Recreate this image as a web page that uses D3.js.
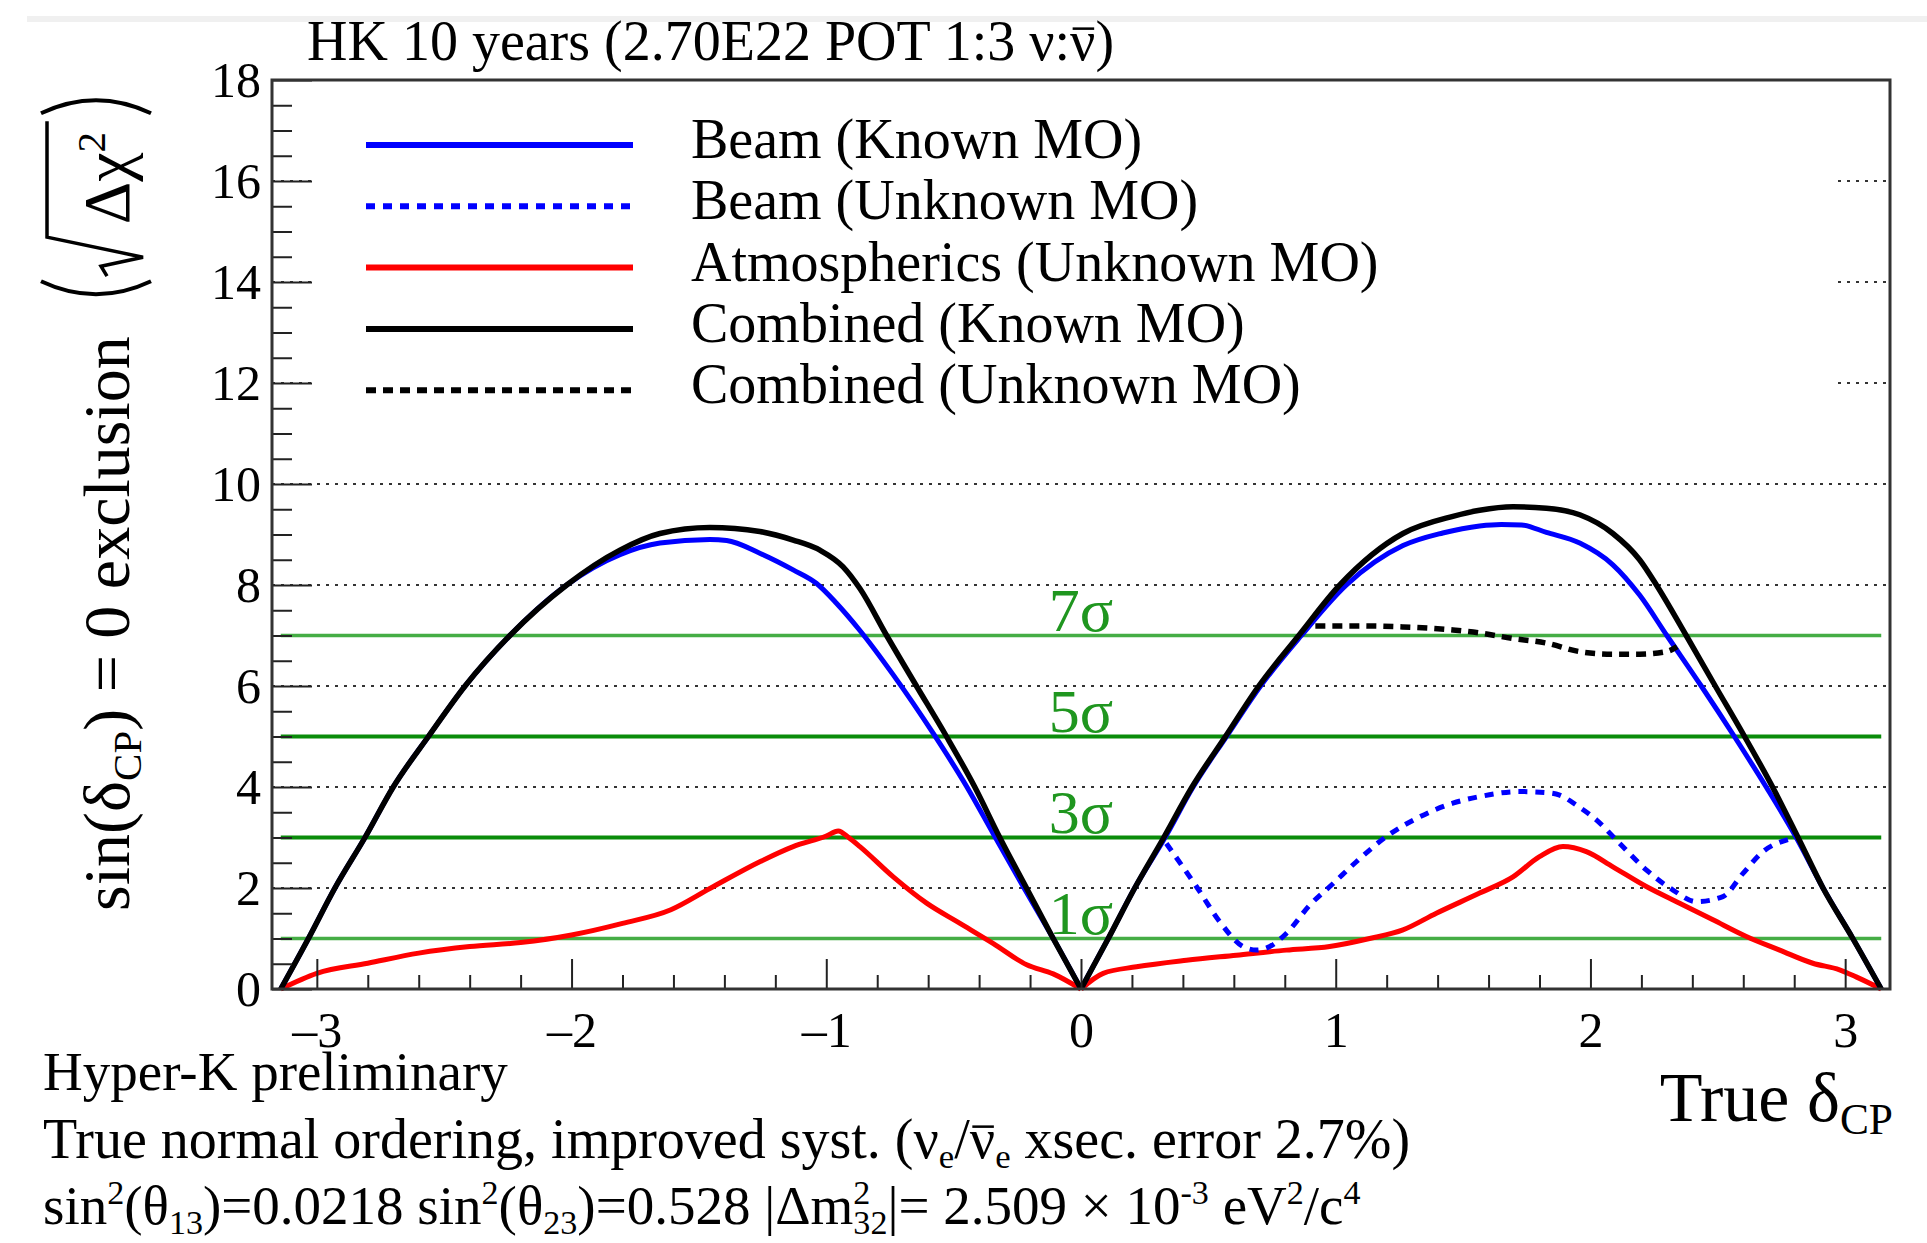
<!DOCTYPE html>
<html lang="en">
<head>
<meta charset="UTF-8">
<title>HK sin(dCP)=0 exclusion</title>
<script src="https://cdn.jsdelivr.net/npm/d3@7"></script>
<style>
  body { margin: 0; background: #fff; }
  svg { display: block; font-family: "Liberation Serif", "Times New Roman", serif; }
  .axis text { font-size: 50px; fill: #000; font-family: "Liberation Serif", serif; }
  .axis line { stroke: #222; stroke-width: 2; }
  .grid line { stroke: #333; stroke-width: 2; stroke-dasharray: 3,6; }
</style>
</head>
<body>
<svg id="chart" width="1927" height="1243"></svg>
<script>
// tick values and labels
const xTicks = [-3, -2, -1, 0, 1, 2, 3];
const yTicks = [0, 2, 4, 6, 8, 10, 12, 14, 16, 18];
const sigmaLevels = [1, 3, 5, 7];
const sigmaLabels = ["1σ", "3σ", "5σ", "7σ"];
const legendLabels = ["Beam (Known MO)", "Beam (Unknown MO)", "Atmospherics (Unknown MO)",
                      "Combined (Known MO)", "Combined (Unknown MO)"];

// [true deltaCP, sqrt(dchi2)]
const beamKnown = [[-3.1416,0],[-3.033,1],[-2.929,2],[-2.811,3],[-2.70,4],[-2.562,5],[-2.418,6],[-2.242,7],
  [-2.019,8],[-1.81,8.6],[-1.653,8.83],[-1.457,8.90],[-1.391,8.88],[-1.261,8.63],[-1.130,8.30],[-1.038,8.03],
  [-0.960,7.64],[-0.868,7.10],[-0.737,6.22],[-0.580,5.06],[-0.449,4.01],[-0.345,3.08],[-0.227,2.03],[-0.109,1.0],[0,0],
  [0.107,1],[0.211,2],[0.33,3],[0.44,4],[0.571,5],[0.705,6],[0.865,7],[1.042,8],[1.264,8.78],[1.42,9.03],
  [1.565,9.17],[1.65,9.20],[1.73,9.19],[1.827,9.04],[1.958,8.83],[2.088,8.40],[2.193,7.80],[2.30,7.0],[2.435,6.0],
  [2.565,5.0],[2.69,4.0],[2.808,3.0],[2.913,2.0],[3.03,1.0],[3.1416,0]];
const beamUnknown = [[0.335,2.88],[0.453,2.03],[0.545,1.33],[0.636,0.84],[0.689,0.77],[0.741,0.84],[0.806,1.10],
  [0.898,1.66],[0.99,2.09],[1.081,2.52],[1.199,3.02],[1.33,3.41],[1.46,3.68],[1.565,3.81],[1.722,3.91],
  [1.827,3.89],[1.879,3.84],[1.945,3.64],[2.023,3.35],[2.115,2.88],[2.219,2.36],[2.324,1.96],[2.416,1.73],
  [2.52,1.83],[2.599,2.29],[2.677,2.72],[2.769,2.95],[2.81,3.0]];
const atmUnknown = [[-3.1416,0],[-3.0,0.31],[-2.8,0.51],[-2.6,0.71],[-2.4,0.84],[-2.2,0.92],[-2.0,1.07],
  [-1.8,1.30],[-1.61,1.57],[-1.457,1.99],[-1.261,2.52],[-1.13,2.82],[-1.0,3.03],[-0.953,3.13],[-0.91,2.99],
  [-0.868,2.82],[-0.737,2.22],[-0.606,1.70],[-0.475,1.30],[-0.344,0.90],[-0.213,0.48],[-0.109,0.30],[0,0],
  [0.087,0.31],[0.218,0.44],[0.414,0.57],[0.61,0.67],[0.806,0.77],[0.976,0.84],[1.133,1.0],[1.264,1.17],
  [1.395,1.50],[1.565,1.9],[1.696,2.22],[1.80,2.62],[1.892,2.82],[1.984,2.72],[2.088,2.42],[2.219,2.03],
  [2.35,1.70],[2.481,1.37],[2.612,1.04],[2.743,0.77],[2.873,0.51],[2.978,0.38],[3.043,0.24],[3.1416,0]];
const combinedKnown = [[-3.1416,0],[-3.033,1],[-2.929,2],[-2.811,3],[-2.70,4],[-2.562,5],[-2.418,6],[-2.242,7],
  [-2.019,8],[-1.81,8.69],[-1.653,9.02],[-1.457,9.14],[-1.261,9.06],[-1.130,8.89],[-1.025,8.69],[-0.934,8.36],
  [-0.868,7.93],[-0.763,7.0],[-0.646,6.0],[-0.528,5.0],[-0.417,4.0],[-0.319,3.0],[-0.214,2.0],[-0.109,1.0],[0,0],
  [0.107,1],[0.211,2],[0.325,3],[0.436,4],[0.567,5],[0.698,6],[0.855,7],[1.016,8],[1.264,9.02],[1.46,9.36],
  [1.565,9.48],[1.696,9.55],[1.827,9.52],[1.958,9.39],[2.088,9.02],[2.193,8.50],[2.259,8.0],[2.376,7.0],
  [2.49,6.0],[2.605,5.0],[2.715,4.0],[2.815,3.0],[2.913,2.0],[3.03,1.0],[3.1416,0]];
const combinedUnknown = [[0.92,7.19],[1.10,7.19],[1.264,7.17],[1.46,7.11],[1.565,7.05],[1.696,6.94],
  [1.827,6.85],[1.958,6.68],[2.088,6.63],[2.193,6.63],[2.298,6.68],[2.34,6.78]];

const W = 1927, H = 1243;
const frame = { left: 272, right: 1890, top: 80, bottom: 989 };

const svg = d3.select("#chart");
const x = d3.scaleLinear().domain([-3.176, 3.176]).range([frame.left, frame.right]);
const y = d3.scaleLinear().domain([0, 18]).range([frame.bottom, frame.top]);

// text with sub/superscripts and overlined characters
function rich(g, px, py, size, parts, anchor) {
  const t = g.append("text").attr("x", px).attr("y", py)
    .attr("font-size", size).attr("text-anchor", anchor || "start");
  let shift = 0, idx = 0;
  const overs = [];
  parts.forEach(p => {
    const s = typeof p === "string" ? { t: p } : p;
    const target = s.sub ? 0.18 * size : s.sup ? -0.36 * size : 0;
    const ts = t.append("tspan").text(s.t).attr("dy", target - shift);
    if (s.sub || s.sup) ts.attr("font-size", size * 0.62);
    if (s.dx) ts.attr("dx", s.dx);
    shift = target;
    if (s.over) overs.push(idx);
    idx += s.t.length;
  });
  overs.forEach(i => {
    const b = t.node().getExtentOfChar(i);
    g.append("line")
      .attr("x1", b.x + b.width * 0.1).attr("x2", b.x + b.width * 0.95)
      .attr("y1", py - size * 0.56).attr("y2", py - size * 0.56)
      .attr("stroke", "#000").attr("stroke-width", size * 0.045);
  });
  return t;
}

svg.append("rect").attr("x", 27).attr("y", 16).attr("width", W - 27).attr("height", 6).attr("fill", "#f0f0f0");

// dotted y grid
svg.append("g").attr("class", "grid")
  .selectAll("line").data(yTicks.filter(v => v > 0 && v < 18)).join("line")
  .attr("x1", frame.left).attr("x2", frame.right)
  .attr("y1", d => y(d)).attr("y2", d => y(d));

// legend background covers the grid
svg.append("rect").attr("x", 312).attr("y", 95).attr("width", 1837 - 312).attr("height", 345).attr("fill", "#fff");

// sigma lines and labels
svg.append("g").selectAll("line").data(sigmaLevels).join("line")
  .attr("x1", x(-Math.PI)).attr("x2", x(Math.PI))
  .attr("y1", d => y(d)).attr("y2", d => y(d))
  .attr("stroke", d => (d === 3 || d === 5) ? "#0a8c0a" : "#45ad45")
  .attr("stroke-width", d => (d === 3 || d === 5) ? 4 : 3.5);
svg.append("g").selectAll("text").data(sigmaLevels).join("text")
  .attr("x", x(0)).attr("y", d => y(d) - 5)
  .attr("text-anchor", "middle").attr("font-size", 62).attr("fill", "#1f961f")
  .text((d, i) => sigmaLabels[i]);

// curves
const styles = [
  { data: beamKnown, color: "#0000ff", dash: null, w: 5 },
  { data: beamUnknown, color: "#0000ff", dash: "9,8", w: 5 },
  { data: atmUnknown, color: "#ff0000", dash: null, w: 5 },
  { data: combinedKnown, color: "#000000", dash: null, w: 5.5 },
  { data: combinedUnknown, color: "#000000", dash: "10,7", w: 5.5 }
];
const drawOrder = [2, 0, 1, 3, 4];

const line = d3.line().x(d => x(d[0])).y(d => y(d[1])).curve(d3.curveMonotoneX);
function splitAtZeros(pts) {
  const segs = [];
  let cur = [];
  pts.forEach((p, i) => {
    cur.push(p);
    if (p[1] === 0 && i > 0 && i < pts.length - 1) { segs.push(cur); cur = [p]; }
  });
  segs.push(cur);
  return segs;
}
drawOrder.forEach(k => {
  const s = styles[k];
  svg.append("path")
    .attr("d", splitAtZeros(s.data).map(seg => line(seg)).join(""))
    .attr("fill", "none").attr("stroke", s.color).attr("stroke-width", s.w)
    .attr("stroke-dasharray", s.dash).attr("stroke-linejoin", "round");
});

// axes: ticks point inward
const xMinor = d3.range(-16, 17).map(i => i * 0.2)
  .filter(v => Math.abs(v - Math.round(v)) > 1e-6 && v > -3.176 && v < 3.176);
const yMinor = d3.range(0, 37).map(i => i * 0.5).filter(v => v % 2 !== 0);

const gx = svg.append("g").attr("class", "axis").attr("transform", `translate(0,${frame.bottom})`);
gx.call(d3.axisBottom(x).tickValues(xMinor).tickSizeInner(-14).tickSizeOuter(0).tickFormat(""));
gx.append("g").call(d3.axisBottom(x).tickValues(xTicks).tickSizeInner(-30).tickSizeOuter(0)
  .tickPadding(22).tickFormat(d => d < 0 ? "\u2013" + Math.abs(d) : d));
gx.selectAll(".domain").remove();

const gy = svg.append("g").attr("class", "axis").attr("transform", `translate(${frame.left},0)`);
gy.call(d3.axisLeft(y).tickValues(yMinor).tickSizeInner(-20).tickSizeOuter(0).tickFormat(""));
gy.append("g").call(d3.axisLeft(y).tickValues(yTicks).tickSizeInner(-40).tickSizeOuter(0).tickPadding(11));
gy.selectAll(".domain").remove();

svg.append("rect")
  .attr("x", frame.left).attr("y", frame.top)
  .attr("width", frame.right - frame.left).attr("height", frame.bottom - frame.top)
  .attr("fill", "none").attr("stroke", "#333").attr("stroke-width", 3);

// legend
const leg = svg.append("g");
legendLabels.forEach((lab, i) => {
  const ly = 145 + i * 61.3;
  const s = styles[i];
  leg.append("line").attr("x1", 366).attr("x2", 633).attr("y1", ly).attr("y2", ly)
    .attr("stroke", s.color).attr("stroke-width", 6).attr("stroke-dasharray", s.dash);
  leg.append("text").attr("x", 691).attr("y", ly + 13).attr("font-size", 56).text(lab);
});

// title
rich(svg, 307, 60, 56, ["HK 10 years (2.70E22 POT 1:3 ν:", { t: "ν", over: true }, ")"]);

// y title (rotated)
const gt = svg.append("g").attr("transform", "translate(129,911) rotate(-90)");
const yt = rich(gt, 0, 0, 66, ["sin(δ", { t: "CP", sub: true }, ") = 0 exclusion"]);
const base = yt.node().getComputedTextLength();
gt.append("path")
  .attr("d", `M${base + 55},-88 Q${base + 29},-33 ${base + 55},22`)
  .attr("fill", "none").attr("stroke", "#000").attr("stroke-width", 4);
gt.append("path")
  .attr("d", `M${base + 60},-22 L${base + 70},-28 L${base + 79},14 L${base + 99},-82 L${base + 215},-82`)
  .attr("fill", "none").attr("stroke", "#000").attr("stroke-width", 3.5).attr("stroke-linejoin", "miter");
rich(gt, base + 112, 0, 66, ["Δχ", { t: "2", sup: true }]);
gt.append("path")
  .attr("d", `M${base + 223},-88 Q${base + 249},-33 ${base + 223},22`)
  .attr("fill", "none").attr("stroke", "#000").attr("stroke-width", 4);

// x title
rich(svg, 1893, 1121, 70, ["True δ", { t: "CP", sub: true }], "end");

// notes below the frame
rich(svg, 43, 1090, 55, ["Hyper-K preliminary"]);
rich(svg, 43, 1158, 56, ["True normal ordering, improved syst. (ν", { t: "e", sub: true }, "/",
  { t: "ν", over: true }, { t: "e", sub: true }, " xsec. error 2.7%)"]);
rich(svg, 43, 1224, 55, ["sin", { t: "2", sup: true }, "(θ", { t: "13", sub: true }, ")=0.0218 sin",
  { t: "2", sup: true }, "(θ", { t: "23", sub: true }, ")=0.528 |Δm", { t: "2", sup: true },
  { t: "32", sub: true, dx: -17 }, "|= 2.509 × 10", { t: "-3", sup: true }, " eV", { t: "2", sup: true },
  "/c", { t: "4", sup: true }]);
</script>
</body>
</html>
